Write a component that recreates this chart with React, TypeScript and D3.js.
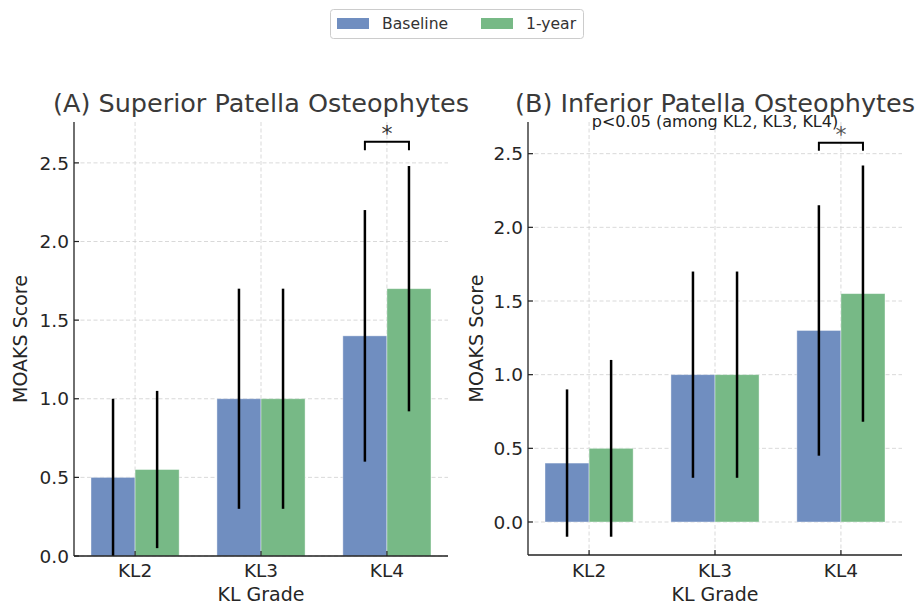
import React from "react";
import * as d3 from "d3";

const categories = ["KL2", "KL3", "KL4"];
const series = ["Baseline", "1-year"];
const colors = ["#708ec0", "#77b986"];

// (A) superior patella
const supBaseline = [0.5, 1.0, 1.4];
const supBaselineErr = [0.5, 0.7, 0.8];
const supYear = [0.55, 1.0, 1.7];
const supYearErr = [0.5, 0.7, 0.78];

// (B) inferior patella
const infBaseline = [0.4, 1.0, 1.3];
const infBaselineErr = [0.5, 0.7, 0.85];
const infYear = [0.5, 1.0, 1.55];
const infYearErr = [0.6, 0.7, 0.87];

const yTicks = [0, 0.5, 1.0, 1.5, 2.0, 2.5];

const width = 923;
const height = 606;
const barW = 0.35;
const font = "DejaVu Sans, sans-serif";

type PanelProps = {
  title: string;
  left: number;
  right: number;
  top: number;
  bottom: number;
  yDomain: [number, number];
  means: number[][];
  errs: number[][];
  sigIndex: number;
  note?: string;
  ylabelX: number;
  starColor: string;
};

const Panel = ({ title, left, right, top, bottom, yDomain, means, errs, sigIndex, note, ylabelX, starColor }: PanelProps) => {
  const x = d3.scaleLinear().domain([-0.485, 2.485]).range([left, right]);
  const y = d3.scaleLinear().domain(yDomain).range([bottom, top]);
  const ticks = yTicks.filter((t) => t >= yDomain[0] && t <= yDomain[1]);
  const offs = [-barW / 2, barW / 2];

  // significance bracket over the chosen group
  const tops = means.map((m, s) => m[sigIndex] + errs[s][sigIndex]);
  const by = d3.max(tops)! + 0.1;
  const bh = 0.055;
  const bx0 = x(sigIndex + offs[0]);
  const bx1 = x(sigIndex + offs[1]);

  return (
    <g>
      {/* grid */}
      {ticks.map((t) => (
        <line key={"gy" + t} x1={left} x2={right} y1={y(t)} y2={y(t)} stroke="#cfcfcf" strokeWidth={0.8} strokeDasharray="4 2.5" />
      ))}
      {categories.map((c, i) => (
        <line key={"gx" + c} x1={x(i)} x2={x(i)} y1={top} y2={bottom} stroke="#cfcfcf" strokeWidth={0.8} strokeDasharray="4 2.5" />
      ))}
      {/* bars */}
      {means.map((m, s) =>
        m.map((v, i) => {
          const x0 = x(i + offs[s] - barW / 2);
          const x1 = x(i + offs[s] + barW / 2);
          return (
            <rect key={s + "-" + i} x={x0} width={x1 - x0} y={Math.min(y(v), y(0))} height={Math.abs(y(0) - y(v))}
              fill={colors[s]} stroke="#ffffff" strokeOpacity={0.5} strokeWidth={0.8} />
          );
        })
      )}
      {/* error bars */}
      {means.map((m, s) =>
        m.map((v, i) => (
          <line key={"e" + s + "-" + i} x1={x(i + offs[s])} x2={x(i + offs[s])} y1={y(v - errs[s][i])} y2={y(v + errs[s][i])}
            stroke="#000" strokeWidth={2.5} />
        ))
      )}
      {/* bracket */}
      <path d={`M${bx0},${y(by)} L${bx0},${y(by + bh)} L${bx1},${y(by + bh)} L${bx1},${y(by)}`} fill="none" stroke="#000" strokeWidth={2} />
      <text x={x(sigIndex)} y={y(by + bh) - 1} textAnchor="middle" fontSize={22} fontFamily={font} fill={starColor}>*</text>
      {/* spines */}
      <line x1={left} x2={left} y1={top} y2={bottom} stroke="#222" strokeWidth={1.3} />
      <line x1={left} x2={right} y1={bottom} y2={bottom} stroke="#222" strokeWidth={1.3} />
      {ticks.map((t) => (
        <g key={"ty" + t}>
          <line x1={left} x2={left + 5} y1={y(t)} y2={y(t)} stroke="#222" strokeWidth={1.2} />
          <text x={left - 5} y={y(t)} dy="0.36em" textAnchor="end" fontSize={18.5} fontFamily={font} fill="#262626">{t.toFixed(1)}</text>
        </g>
      ))}
      {categories.map((c, i) => (
        <g key={"tx" + c}>
          <line x1={x(i)} x2={x(i)} y1={bottom} y2={bottom - 5} stroke="#222" strokeWidth={1.2} />
          <text x={x(i)} y={577} textAnchor="middle" fontSize={18.5} fontFamily={font} fill="#262626">{c}</text>
        </g>
      ))}
      <text x={(left + right) / 2} y={601} textAnchor="middle" fontSize={19} fontFamily={font} fill="#262626">KL Grade</text>
      <text transform={`translate(${ylabelX},${(top + bottom) / 2}) rotate(-90)`} textAnchor="middle" dy="0.35em" fontSize={19} fontFamily={font} fill="#262626">MOAKS Score</text>
      <text x={(left + right) / 2} y={112} textAnchor="middle" fontSize={25.5} fontFamily={font} fill="#3a3a3a">{title}</text>
      {note && (
        <text x={(left + right) / 2} y={127} textAnchor="middle" fontSize={16} fontFamily={font} fill="#222">{note}</text>
      )}
    </g>
  );
};

export default function App() {
  return (
    <svg width={width} height={height} style={{ position: "absolute", left: 0, top: 0, background: "#fff" }}>
      <Panel title="(A) Superior Patella Osteophytes" left={74} right={448} top={122} bottom={556}
        yDomain={[0, 2.76]} means={[supBaseline, supYear]} errs={[supBaselineErr, supYearErr]} sigIndex={2}
        ylabelX={20} starColor="#333" />
      <Panel title="(B) Inferior Patella Osteophytes" left={528} right={902} top={122} bottom={555}
        yDomain={[-0.224, 2.715]} means={[infBaseline, infYear]} errs={[infBaselineErr, infYearErr]} sigIndex={2}
        note="p<0.05 (among KL2, KL3, KL4)" ylabelX={476} starColor="#555" />
      {/* legend */}
      <g>
        <rect x={330.5} y={9.5} width={253} height={29} rx={3} fill="#fff" stroke="#cccccc" strokeWidth={1} />
        {series.map((s, i) => {
          const lx = i === 0 ? 337 : 481;
          return (
            <g key={s}>
              <rect x={lx} y={18} width={32} height={11} fill={colors[i]} />
              <text x={lx + 45} y={28.5} fontSize={15.6} fontFamily={font} fill="#333">{s}</text>
            </g>
          );
        })}
      </g>
    </svg>
  );
}
